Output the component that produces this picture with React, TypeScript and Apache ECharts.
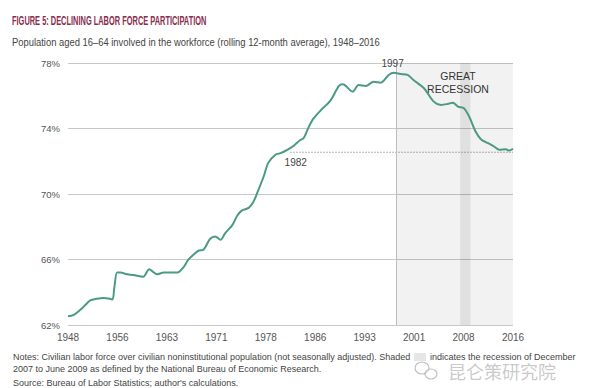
import React, { useEffect, useRef } from "react";
import * as echarts from "echarts";

const titleText = "FIGURE 5: DECLINING LABOR FORCE PARTICIPATION";
const subtitleText =
  "Population aged 16\u201364 involved in the workforce (rolling 12-month average), 1948\u20132016";
const notesLine1a =
  "Notes: Civilian labor force over civilian noninstitutional population (not seasonally adjusted). Shaded";
const notesLine1b = "indicates the recession of December";
const notesLine2 = "2007 to June 2009 as defined by the National Bureau of Economic Research.";
const sourceText = "Source: Bureau of Labor Statistics; author's calculations.";
const watermarkText = "昆仑策研究院";

const xMin = 1948;
const xMax = 2016;
const xTickCount = 10;
const yTicks = [62, 66, 70, 74, 78];

// [year, participation %]
const laborSeries: [number, number][] = [
  [1948, 62.53], [1948.8, 62.6], [1949.8, 62.9], [1950.6, 63.2], [1951.4, 63.5],
  [1952.4, 63.6], [1953.4, 63.65], [1954.4, 63.6], [1954.8, 63.55], [1955.1, 64.35],
  [1955.5, 65.2], [1956, 65.2], [1957, 65.1], [1958, 65.05], [1959.5, 64.95],
  [1960.4, 65.4], [1961, 65.25], [1961.6, 65.1], [1962.6, 65.2], [1964.7, 65.2],
  [1965.6, 65.5], [1966.4, 66.0], [1967.2, 66.3], [1968, 66.55], [1968.7, 66.6],
  [1969.7, 67.25], [1970.5, 67.4], [1971.3, 67.2], [1972, 67.6], [1973.1, 68.1],
  [1973.9, 68.7], [1974.6, 69.0], [1975.6, 69.15], [1976.3, 69.5], [1976.9, 70.05],
  [1977.9, 71.07], [1978.6, 71.9], [1979.7, 72.4], [1980.5, 72.5], [1981.5, 72.7],
  [1982.5, 72.95], [1983.5, 73.3], [1984, 73.4], [1984.8, 74.1], [1985.5, 74.6],
  [1986.6, 75.1], [1988.1, 75.7], [1989.4, 76.6], [1990, 76.7], [1991.5, 76.25],
  [1992.4, 76.65], [1993.5, 76.6], [1994.7, 76.85], [1995.8, 76.8], [1997, 77.27],
  [1997.8, 77.4], [1998.8, 77.33], [1999.9, 77.27], [2000.8, 76.96], [2002.4, 76.46],
  [2003.9, 75.64], [2005, 75.44], [2006, 75.5], [2006.8, 75.58], [2007.6, 75.34],
  [2008.5, 75.24], [2009.3, 74.73], [2010.3, 73.8], [2011.1, 73.35], [2012.2, 73.1],
  [2013.1, 72.9], [2013.9, 72.7], [2014.9, 72.74], [2015.4, 72.65], [2016, 72.75],
];

const level1982 = 72.55;
const level1982Start = 1982;
const peakYear = 1998.2;
const peakLabel = "1997";
const recessionStart = 2007.92;
const recessionEnd = 2009.5;

export default function App() {
  const ref = useRef<HTMLDivElement>(null);
  useEffect(() => {
    if (!ref.current) return;
    const chart = echarts.init(ref.current, undefined, { renderer: "svg" });
    const step = (xMax - xMin) / (xTickCount - 1);
    const tickVals = Array.from({ length: xTickCount }, (_, i) => xMin + i * step);
    const sans = "'Liberation Sans', Arial, sans-serif";
    chart.setOption({
      animation: false,
      backgroundColor: "#ffffff",
      grid: { left: 68, right: 83, top: 63, bottom: 63 },
      xAxis: {
        type: "value",
        min: xMin,
        max: xMax,
        axisLine: { show: false },
        axisTick: { show: false },
        splitLine: { show: false },
        axisLabel: {
          customValues: tickVals,
          formatter: (v: number) => String(Math.round(v)),
          color: "#555",
          fontSize: 10,
          fontFamily: sans,
          margin: 7,
        },
      },
      yAxis: {
        type: "value",
        min: yTicks[0],
        max: yTicks[yTicks.length - 1],
        interval: 4,
        axisLine: { show: false },
        axisTick: { show: false },
        splitLine: { lineStyle: { color: "#c8c8c8", width: 1 } },
        axisLabel: {
          formatter: "{value}%",
          color: "#555",
          fontSize: 9.5,
          fontFamily: sans,
          margin: 8,
        },
      },
      series: [
        {
          type: "line",
          data: laborSeries,
          smooth: 0.3,
          showSymbol: false,
          symbol: "none",
          z: 5,
          lineStyle: { color: "#4b9a84", width: 2 },
          markArea: {
            silent: true,
            data: [
              [{ xAxis: peakYear, itemStyle: { color: "rgba(0,0,0,0.05)" } }, { xAxis: xMax }],
              [{ xAxis: recessionStart, itemStyle: { color: "rgba(0,0,0,0.07)" } }, { xAxis: recessionEnd }],
            ],
          },
          markLine: {
            silent: true,
            symbol: "none",
            label: { show: false },
            lineStyle: { color: "#bdbdbd", width: 1, type: "solid" },
            data: [{ xAxis: peakYear }],
          },
          markPoint: {
            silent: true,
            symbol: "circle",
            symbolSize: 1,
            itemStyle: { color: "rgba(0,0,0,0)" },
            data: [
              {
                coord: [1997.6, 77.45],
                label: {
                  show: true,
                  formatter: peakLabel,
                  position: "top",
                  distance: 3,
                  color: "#444",
                  fontSize: 10,
                  fontFamily: sans,
                },
              },
              {
                coord: [1982.8, level1982],
                label: {
                  show: true,
                  formatter: "1982",
                  position: "bottom",
                  distance: 5,
                  color: "#444",
                  fontSize: 10,
                  fontFamily: sans,
                },
              },
              {
                coord: [2007.6, 76.8],
                label: {
                  show: true,
                  formatter: "GREAT\nRECESSION",
                  position: "inside",
                  color: "#333",
                  fontSize: 10.5,
                  lineHeight: 13,
                  align: "center",
                  fontFamily: sans,
                },
              },
            ],
          },
        },
        {
          type: "line",
          data: [
            [level1982Start, level1982],
            [xMax, level1982],
          ],
          symbol: "none",
          z: 4,
          lineStyle: { color: "#666", width: 1, type: [1, 2] },
        },
      ],
      graphic: [
        {
          type: "text",
          x: 12,
          y: 21,
          scaleX: 0.62,
          style: {
            text: titleText,
            font: `bold 12px ${sans}`,
            fill: "#8a2c4c",
            textVerticalAlign: "middle",
          },
        },
        {
          type: "text",
          x: 12,
          y: 42,
          scaleX: 0.856,
          style: {
            text: subtitleText,
            font: `11px ${sans}`,
            fill: "#444",
            textVerticalAlign: "middle",
          },
        },
        {
          type: "text",
          x: 13,
          y: 357,
          style: {
            text: notesLine1a,
            font: `9px ${sans}`,
            fill: "#444",
            textVerticalAlign: "middle",
          },
        },
        {
          type: "rect",
          shape: { x: 414, y: 353, width: 12, height: 8 },
          style: { fill: "#e6e6e6" },
        },
        {
          type: "text",
          x: 430,
          y: 357,
          style: {
            text: notesLine1b,
            font: `9px ${sans}`,
            fill: "#444",
            textVerticalAlign: "middle",
          },
        },
        {
          type: "text",
          x: 13,
          y: 369,
          style: {
            text: notesLine2,
            font: `9px ${sans}`,
            fill: "#444",
            textVerticalAlign: "middle",
          },
        },
        {
          type: "text",
          x: 13,
          y: 383,
          style: {
            text: sourceText,
            font: `9px ${sans}`,
            fill: "#444",
            textVerticalAlign: "middle",
          },
        },
        {
          type: "ellipse",
          shape: { cx: 422, cy: 368, rx: 7, ry: 6 },
          style: { fill: "none", stroke: "rgba(150,150,150,0.6)", lineWidth: 1.2 },
        },
        {
          type: "ellipse",
          shape: { cx: 431, cy: 374, rx: 6, ry: 5 },
          style: { fill: "rgba(255,255,255,0.6)", stroke: "rgba(150,150,150,0.6)", lineWidth: 1.2 },
        },
        {
          type: "text",
          x: 448,
          y: 371,
          style: {
            text: watermarkText,
            font: `18px 'Noto Sans CJK SC', sans-serif`,
            fill: "rgba(150,150,150,0.5)",
            textVerticalAlign: "middle",
          },
        },
      ],
    });
    return () => chart.dispose();
  }, []);
  return (
    <div
      ref={ref}
      style={{ position: "fixed", left: 0, top: 0, width: 596, height: 388 }}
    />
  );
}
